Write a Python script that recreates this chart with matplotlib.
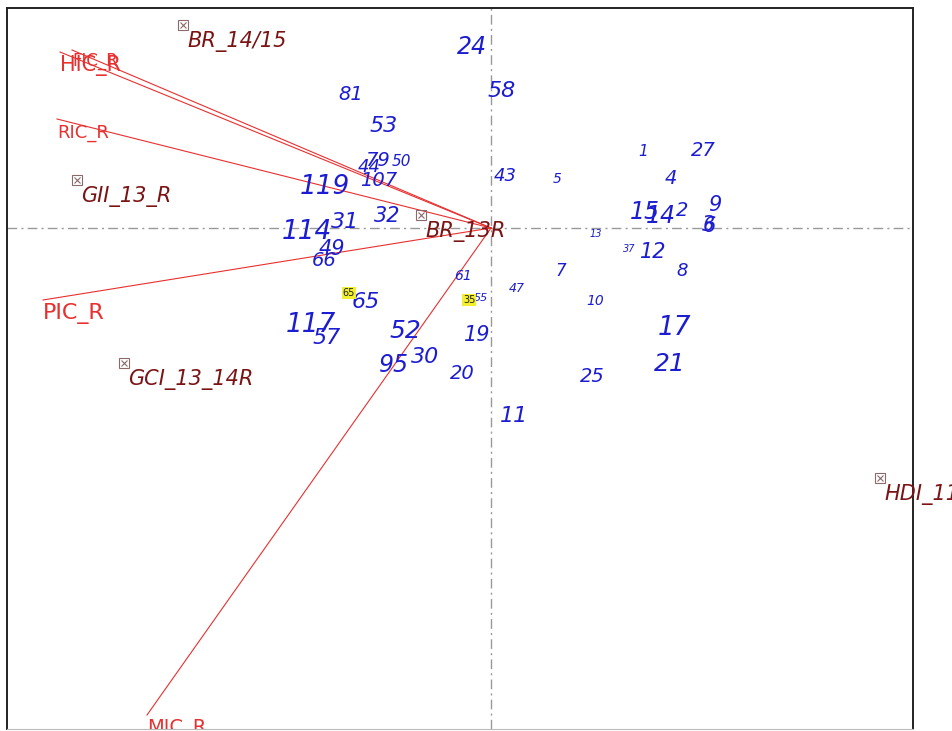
import matplotlib.pyplot as plt

# sample scores on ordination axes 1 and 2
sample_ids = ['24', '58', '81', '53', '79', '44', '50', '107', '119', '43', '5',
              '1', '27', '4', '9', '15', '14', '2', '3', '6', '13', '37', '12',
              '8', '7', '47', '10', '17', '21', '25', '32', '31', '114', '49',
              '66', '61', '65', '55', '117', '57', '52', '19', '95', '30', '20', '11']
axis1 = [-0.095, 0.055, -0.70, -0.535, -0.565, -0.61, -0.45, -0.56, -0.83, 0.07, 0.33,
         0.76, 1.06, 0.90, 1.12, 0.77, 0.85, 0.955, 1.09, 1.09, 0.525, 0.69, 0.81,
         0.955, 0.35, 0.13, 0.52, 0.915, 0.895, 0.505, -0.52, -0.73, -0.92, -0.795,
         -0.835, -0.14, -0.625, -0.05, -0.90, -0.82, -0.43, -0.07, -0.485, -0.33, -0.145, 0.115]
axis2 = [0.905, 0.685, 0.665, 0.51, 0.34, 0.305, 0.33, 0.235, 0.205, 0.26, 0.245,
         0.38, 0.385, 0.245, 0.115, 0.08, 0.06, 0.09, 0.015, 0.01, -0.03, -0.105, -0.12,
         -0.215, -0.215, -0.30, -0.365, -0.50, -0.68, -0.74, 0.06, 0.03, -0.02, -0.105,
         -0.16, -0.24, -0.37, -0.35, -0.485, -0.55, -0.515, -0.535, -0.685, -0.645, -0.725, -0.94]
# label size follows sample weight
sample_fs = [17, 16, 14, 16, 14, 13, 11, 14, 19, 13, 10,
             11, 14, 14, 15, 17, 17, 14, 15, 15, 7, 7, 15,
             13, 12, 9, 10, 19, 18, 14, 15, 16, 19, 15,
             14, 10, 16, 8, 19, 16, 18, 15, 17, 16, 14, 16]

# highlighted samples
hl_ids = ['65', '35']
hl_x = [-0.71, -0.11]
hl_y = [-0.325, -0.36]

# response variables (arrows)
resp_names = ['FIC_R', 'HIC_R', 'RIC_R', 'PIC_R', 'MIC_R']
resp_x = [-2.095, -2.155, -2.17, -2.24, -1.72]
resp_y = [0.89, 0.88, 0.545, -0.36, -2.435]
resp_fs = [12, 15, 13, 16, 14]

# supplementary / nominal variables
env_names = ['BR_14/15', 'GII_13_R', 'BR_13R', 'GCI_13_14R', 'HDI_11']
env_x = [-1.54, -2.07, -0.35, -1.835, 1.945]
env_y = [1.015, 0.24, 0.065, -0.675, -1.25]

blue = '#1c1cd0'
red = '#e83030'
maroon = '#7a1414'

fig = plt.figure(figsize=(9.52, 7.31), dpi=100)
ax = fig.add_axes([7 / 952, 2 / 731, 906 / 952, 721 / 731])
ax.set_xlim(-2.42, 2.11)
ax.set_ylim(-2.505, 1.10)
ax.set_xticks([])
ax.set_yticks([])
for side in ['top', 'left', 'right']:
    ax.spines[side].set_color('#222222')
    ax.spines[side].set_linewidth(1.4)
ax.spines['bottom'].set_color('#bbbbbb')

ax.axhline(0, color='#999999', lw=1, ls=(0, (7, 3, 1.5, 3)), zorder=0)
ax.axvline(0, color='#999999', lw=1, ls=(0, (7, 3, 1.5, 3)), zorder=0)

# arrows of response variables
for n, x, y, fs in zip(resp_names, resp_x, resp_y, resp_fs):
    ax.plot([0, x], [0, y], color=red, lw=0.8, zorder=1)
    dy = -8 if n == 'FIC_R' else -10
    ax.annotate(n, (x, y), xytext=(0, dy), textcoords='offset points',
                ha='left', va='center', color=red, fontsize=fs,
                annotation_clip=False, clip_on=(n == 'MIC_R'), zorder=3)

# nominal variables: boxed cross + label
for n, x, y in zip(env_names, env_x, env_y):
    ax.plot(x, y, marker='s', ms=7, mfc='none', mec='#8a6a6a', mew=0.8, zorder=2)
    ax.plot(x, y, marker='x', ms=5, mec='#8a6a6a', mew=0.8, zorder=2)
    ax.annotate(n, (x, y), xytext=(3, -12), textcoords='offset points',
                ha='left', va='center', color=maroon, fontsize=15,
                style='italic', annotation_clip=False, zorder=3)

# sample labels
for s, x, y, fs in zip(sample_ids, axis1, axis2, sample_fs):
    ax.text(x, y, s, ha='center', va='center', color=blue, fontsize=fs,
            style='italic', zorder=4)

for s, x, y in zip(hl_ids, hl_x, hl_y):
    ax.text(x, y, s, ha='center', va='center', color='#222222', fontsize=7,
            zorder=5, bbox=dict(boxstyle='square,pad=0.1', fc='#f2ee30', ec='none'))

fig.savefig('out.png', dpi=100)
